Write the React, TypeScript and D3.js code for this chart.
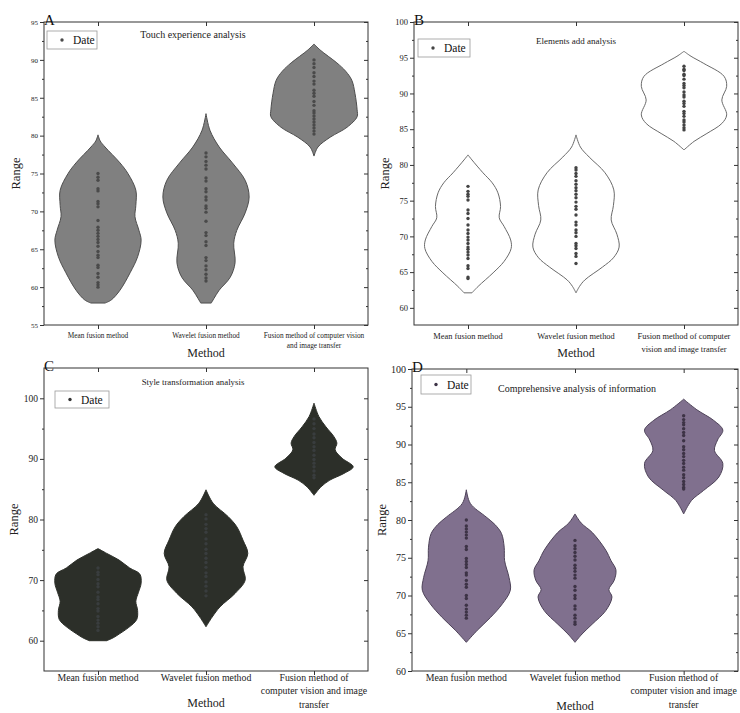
import * as d3 from 'd3'
import { useEffect, useRef } from 'react'

type Shape = [number, number][]

const methods = ['Mean fusion method', 'Wavelet fusion method', 'Fusion method of computer vision and image transfer']

// A - touch experience
const touchMean = [75.0, 74.5, 74.1, 73.0, 72.7, 71.3, 71.0, 70.6, 68.8, 67.9, 67.5, 67.1, 66.7, 66.3, 65.9, 65.4, 64.7, 64.2, 63.9, 62.9, 62.6, 61.8, 61.3, 60.6, 60.3, 60.0]
const touchWavelet = [77.7, 77.2, 76.6, 76.1, 75.6, 74.4, 74.0, 73.0, 72.6, 71.9, 71.5, 70.7, 70.4, 69.9, 68.7, 67.2, 66.8, 66.0, 65.5, 63.9, 63.5, 62.8, 62.3, 61.7, 61.2, 60.8]
const touchFusion = [90.0, 89.5, 89.0, 88.3, 87.8, 87.2, 86.8, 86.0, 85.6, 85.2, 84.5, 84.0, 83.3, 83.0, 82.6, 82.2, 81.8, 81.4, 81.0, 80.6, 80.2]
// density outline: [value, relative half width]
const touchMeanShape: Shape = [[57.9, .16], [58.3, .3], [59.6, .5], [61.9, .73], [64, .9], [66.2, .98], [67.5, .93], [69.3, .84], [70.8, .86], [72.8, .86], [75, .68], [76.4, .5], [78.5, .16], [79.3, .05], [80.1, 0]]
const touchWaveletShape: Shape = [[57.9, .12], [58.5, .18], [59.6, .3], [61.3, .55], [63.2, .66], [65.8, .63], [67.5, .7], [69.8, .89], [71.9, .98], [74.1, .89], [76.4, .6], [78.5, .3], [80.7, .09], [82.9, 0]]
const touchFusionShape: Shape = [[77.3, 0], [78.5, .09], [79.8, .37], [81.1, .75], [82.5, .98], [83.4, .98], [85.6, .93], [87.3, .86], [88.5, .72], [89.6, .52], [91.3, .14], [92.1, 0]]
const touchTicks = [55, 60, 65, 70, 75, 80, 85, 90, 95]

// B - elements add
const elemMean = [77.0, 76.3, 75.9, 75.6, 75.1, 73.7, 73.2, 72.5, 71.6, 70.9, 70.4, 69.9, 69.5, 69.0, 68.5, 68.2, 67.8, 67.4, 66.9, 65.9, 65.5, 64.3, 64.1]
const elemWavelet = [79.6, 79.3, 78.8, 78.4, 77.8, 77.3, 76.8, 76.4, 75.9, 75.4, 74.8, 74.2, 73.8, 73.0, 72.0, 71.6, 70.9, 70.5, 70.0, 69.0, 68.7, 68.3, 67.6, 67.2, 66.2]
const elemFusion = [93.8, 93.4, 93.2, 92.7, 92.5, 92.0, 91.4, 91.1, 90.8, 90.2, 89.8, 89.5, 88.9, 88.6, 88.2, 87.5, 87.2, 86.8, 86.3, 86.0, 85.6, 85.2, 84.9]
const elemMeanShape: Shape = [[62.1, .09], [63, .23], [64.9, .57], [66.5, .82], [68.3, .98], [69.5, .97], [71.4, .82], [72.6, .71], [74.2, .74], [76.1, .68], [77.5, .55], [78.9, .34], [80.7, .09], [81.4, 0]]
const elemWaveletShape: Shape = [[62.1, 0], [63, .08], [63.9, .2], [65.7, .6], [67, .85], [68.5, .98], [70.3, .93], [72.3, .8], [74.3, .85], [76.5, .86], [78.9, .66], [81.1, .3], [82.5, .1], [84.2, 0]]
const elemFusionShape: Shape = [[82.1, 0], [83.3, .23], [84.4, .52], [85.8, .86], [87, .97], [89.1, .86], [91, .97], [92.4, .91], [94.2, .45], [95.2, .16], [95.9, 0]]
const elemTicks = [60, 65, 70, 75, 80, 85, 90, 95, 100]

// C - style transformation
const styleMean = [72.0, 71.3, 70.9, 70.1, 69.4, 68.9, 68.0, 67.2, 66.8, 66.1, 65.3, 64.9, 64.0, 63.4, 62.9, 62.3, 61.7]
const styleWavelet = [80.8, 80.1, 79.2, 78.5, 77.9, 76.8, 76.0, 75.1, 74.4, 73.6, 72.9, 72.1, 71.2, 70.6, 69.7, 69.0, 68.2, 67.4]
const styleFusion = [96.6, 95.8, 95.0, 94.1, 93.5, 92.7, 92.0, 91.4, 90.6, 89.9, 89.3, 88.7, 88.0, 87.3, 86.9]
const styleMeanShape: Shape = [[60, .2], [60.5, .35], [61.1, .48], [62.2, .7], [63.5, .88], [65, .9], [66.5, .86], [68, .92], [69.5, .98], [71, .95], [72, .72], [73.3, .48], [74.4, .2], [75.2, 0]]
const styleWaveletShape: Shape = [[62.3, 0], [63.9, .14], [65.6, .32], [67.8, .66], [70, .89], [72.2, .84], [74.4, .95], [76.6, .84], [78.8, .7], [80.5, .5], [82.7, .16], [84.9, 0]]
const styleFusionShape: Shape = [[84, 0], [85.4, .16], [86.5, .36], [87.6, .68], [88.7, .89], [90.1, .64], [91.5, .48], [92.6, .52], [93.7, .45], [95.3, .27], [97, .11], [99.2, 0]]
const styleTicks = [60, 70, 80, 90, 100]

// D - comprehensive analysis
const infoMean = [80.0, 79.2, 78.8, 78.4, 78.0, 77.6, 76.5, 76.1, 74.9, 74.5, 74.1, 73.7, 73.0, 72.7, 72.0, 71.5, 71.1, 70.0, 69.6, 68.7, 68.2, 67.8, 67.4, 67.0]
const infoWavelet = [77.3, 76.6, 76.2, 75.7, 75.2, 74.7, 74.0, 73.6, 73.2, 72.7, 72.3, 71.2, 70.7, 70.0, 69.6, 68.6, 68.2, 67.4, 67.0, 66.5, 66.2]
const infoFusion = [93.8, 93.3, 92.9, 92.6, 92.1, 91.6, 91.2, 90.5, 89.7, 89.3, 88.8, 88.4, 87.9, 87.5, 87.0, 86.6, 86.0, 85.6, 85.1, 84.7, 84.3, 84.1]
const infoMeanShape: Shape = [[63.8, 0], [65.4, .25], [67.1, .55], [68.9, .82], [70.7, 1], [72.4, .97], [74.6, .87], [76.4, .86], [78.2, .8], [79.4, .65], [80.4, .45], [82.2, .09], [84, 0]]
const infoWaveletShape: Shape = [[63.8, 0], [64.9, .16], [66.2, .39], [68, .7], [69.8, .84], [70.8, .77], [72, .89], [73.4, .93], [74.6, .82], [76, .7], [78.3, .4], [79.6, .14], [80.8, 0]]
const infoFusionShape: Shape = [[80.8, 0], [82.6, .18], [83.9, .45], [85.7, .8], [87.5, .89], [89.2, .7], [90.6, .77], [91.9, .89], [93.2, .68], [94.6, .3], [96, 0]]
const infoTicks = [60, 65, 70, 75, 80, 85, 90, 95, 100]

const FONT = '"Liberation Serif", "Times New Roman", serif'

const panels = [
    {
        id: 'A', title: 'Touch experience analysis',
        points: [touchMean, touchWavelet, touchFusion],
        shapes: [touchMeanShape, touchWaveletShape, touchFusionShape],
        ticks: touchTicks, domain: [55, 95],
        box: { left: 44, top: 22, right: 368, bottom: 325 },
        fill: '#808080', stroke: '#4d4d4d', dot: '#4a4a4a', legendDot: '#4a4a4a',
        tickFont: 7, labelFont: 7.3, labelDy: 13, lines: [[methods[0]], [methods[1]], ['Fusion method of computer vision', 'and image transfer']],
        lineGap: 10, titleFont: 10, titleX: 193, titleY: 38,
        legend: { x: 47, y: 31, w: 50, h: 18 },
        rangeX: 20, methodY: 357
    },
    {
        id: 'B', title: 'Elements add analysis',
        points: [elemMean, elemWavelet, elemFusion],
        shapes: [elemMeanShape, elemWaveletShape, elemFusionShape],
        ticks: elemTicks, domain: [57.6, 100],
        box: { left: 414, top: 22, right: 738, bottom: 325 },
        fill: '#ffffff', stroke: '#6a6a6a', dot: '#444444', legendDot: '#444444',
        tickFont: 8.5, labelFont: 8.4, labelDy: 14, lines: [[methods[0]], [methods[1]], ['Fusion method of computer', 'vision and image transfer']],
        lineGap: 13, titleFont: 9, titleX: 576, titleY: 44,
        legend: { x: 418, y: 39, w: 52, h: 18 },
        rangeX: 389, methodY: 357
    },
    {
        id: 'C', title: 'Style transformation analysis',
        points: [styleMean, styleWavelet, styleFusion],
        shapes: [styleMeanShape, styleWaveletShape, styleFusionShape],
        ticks: styleTicks, domain: [55, 105],
        box: { left: 44, top: 368, right: 368, bottom: 671 },
        fill: '#2c2f29', stroke: '#2c2f29', dot: '#393d3e', legendDot: '#333333',
        tickFont: 9.5, labelFont: 9.8, labelDy: 9.5, lines: [[methods[0]], [methods[1]], ['Fusion method of', 'computer vision and image', 'transfer']],
        lineGap: 13.5, titleFont: 8.8, titleX: 193, titleY: 385,
        legend: { x: 55, y: 391, w: 54, h: 17 },
        rangeX: 18, methodY: 707
    },
    {
        id: 'D', title: 'Comprehensive analysis of information',
        points: [infoMean, infoWavelet, infoFusion],
        shapes: [infoMeanShape, infoWaveletShape, infoFusionShape],
        ticks: infoTicks, domain: [60, 100],
        box: { left: 412, top: 369, right: 738, bottom: 671 },
        fill: '#80708e', stroke: '#4d4258', dot: '#3d3346', legendDot: '#3d3346',
        tickFont: 10, labelFont: 9.8, labelDy: 9.5, lines: [[methods[0]], [methods[1]], ['Fusion method of', 'computer vision and image', 'transfer']],
        lineGap: 13.5, titleFont: 10, titleX: 577, titleY: 392,
        legend: { x: 421, y: 375, w: 50, h: 19 },
        rangeX: 386, methodY: 710
    }
]

const drawPanel = (svg, p) => {
    const { left, top, right, bottom } = p.box
    const g = svg.append('g')

    const y = d3.scaleLinear().domain(p.domain).range([bottom, top])
    const x = d3.scalePoint().domain(['0', '1', '2']).range([left, right]).padding(0.5)
    const w = d3.scaleLinear().domain([0, 1]).range([0, 44])

    const step = p.ticks[1] - p.ticks[0]
    const minor = p.ticks.map(t => t + step / 2).filter(t => t > p.domain[0] && t < p.domain[1])
        .concat(p.ticks[0] - step / 2 > p.domain[0] ? [p.ticks[0] - step / 2] : [])

    // violins
    p.shapes.forEach((shape, i) => {
        const cx = x(String(i))
        const area = d3.area<[number, number]>()
            .y(d => y(d[0]))
            .x0(d => cx - w(d[1]))
            .x1(d => cx + w(d[1]))
            .curve(d3.curveCatmullRom)
        g.append('path')
            .datum(shape)
            .attr('d', area)
            .attr('fill', p.fill)
            .attr('stroke', p.stroke)
            .attr('stroke-width', 1)
    })

    // data points
    p.points.forEach((pts, i) => {
        g.selectAll(null)
            .data(pts)
            .enter()
            .append('circle')
            .attr('cx', x(String(i)))
            .attr('cy', d => y(d))
            .attr('r', 1.7)
            .attr('fill', p.dot)
    })

    // frame
    g.append('rect')
        .attr('x', left).attr('y', top)
        .attr('width', right - left).attr('height', bottom - top)
        .attr('fill', 'none').attr('stroke', '#333').attr('stroke-width', 1)

    // left axis
    const la = g.append('g').attr('transform', `translate(${left},0)`)
    la.call(d3.axisLeft(y).tickValues(p.ticks).tickSize(4).tickPadding(2))
    la.append('g').call(d3.axisLeft(y).tickValues(minor).tickSize(2).tickFormat(() => ''))
    // right axis, ticks inward
    const ra = g.append('g').attr('transform', `translate(${right},0)`)
    ra.call(d3.axisRight(y).tickValues(p.ticks).tickSize(-4).tickFormat(() => ''))
    ra.append('g').call(d3.axisRight(y).tickValues(minor).tickSize(-2).tickFormat(() => ''))
    // top axis, ticks inward
    g.append('g').attr('transform', `translate(0,${top})`)
        .call(d3.axisTop(x).tickSize(-4).tickFormat(() => ''))
    // bottom axis
    g.append('g').attr('transform', `translate(0,${bottom})`)
        .call(d3.axisBottom(x).tickSize(4).tickFormat(() => ''))

    g.selectAll('.domain').remove()
    g.selectAll('.tick line').attr('stroke', '#333')
    la.selectAll('text').attr('font-family', FONT).attr('font-size', p.tickFont).attr('fill', '#222')

    // category labels
    p.lines.forEach((lines, i) => {
        const t = g.append('text')
            .attr('x', x(String(i)))
            .attr('y', bottom + p.labelDy)
            .attr('text-anchor', 'middle')
            .attr('font-family', FONT)
            .attr('font-size', p.labelFont)
            .attr('fill', '#222')
        lines.forEach((l, k) => {
            t.append('tspan').attr('x', x(String(i))).attr('dy', k === 0 ? 0 : p.lineGap).text(l)
        })
    })

    // axis titles
    g.append('text')
        .attr('x', (left + right) / 2).attr('y', p.methodY)
        .attr('text-anchor', 'middle')
        .attr('font-family', FONT).attr('font-size', 12).attr('fill', '#222')
        .text('Method')
    g.append('text')
        .attr('transform', `translate(${p.rangeX},${(top + bottom) / 2}) rotate(-90)`)
        .attr('text-anchor', 'middle')
        .attr('font-family', FONT).attr('font-size', 12.5).attr('fill', '#222')
        .text('Range')

    // chart title
    g.append('text')
        .attr('x', p.titleX).attr('y', p.titleY)
        .attr('text-anchor', 'middle')
        .attr('font-family', FONT).attr('font-size', p.titleFont).attr('fill', '#222')
        .text(p.title)

    // panel letter
    g.append('text')
        .attr('x', left).attr('y', top + 3)
        .attr('font-family', FONT).attr('font-size', 15).attr('fill', '#111')
        .text(p.id)

    // legend
    const lg = p.legend
    g.append('rect')
        .attr('x', lg.x).attr('y', lg.y).attr('width', lg.w).attr('height', lg.h)
        .attr('fill', '#fff').attr('stroke', '#999').attr('stroke-width', 0.8)
    g.append('circle')
        .attr('cx', lg.x + 15).attr('cy', lg.y + lg.h / 2).attr('r', 1.7).attr('fill', p.legendDot)
    g.append('text')
        .attr('x', lg.x + 26).attr('y', lg.y + lg.h / 2 + 4)
        .attr('font-family', FONT).attr('font-size', 11.5).attr('fill', '#111')
        .text('Date')
}

const App = () => {
    const ref = useRef<SVGSVGElement>(null)

    useEffect(() => {
        const svg = d3.select(ref.current)
        svg.selectAll('*').remove()
        svg.append('rect').attr('width', 740).attr('height', 713).attr('fill', '#fff')
        panels.forEach(p => drawPanel(svg, p))
    }, [])

    return (
        <svg ref={ref} width={740} height={713} style={{ position: 'absolute', left: 0, top: 0 }} />
    )
}

export default App
